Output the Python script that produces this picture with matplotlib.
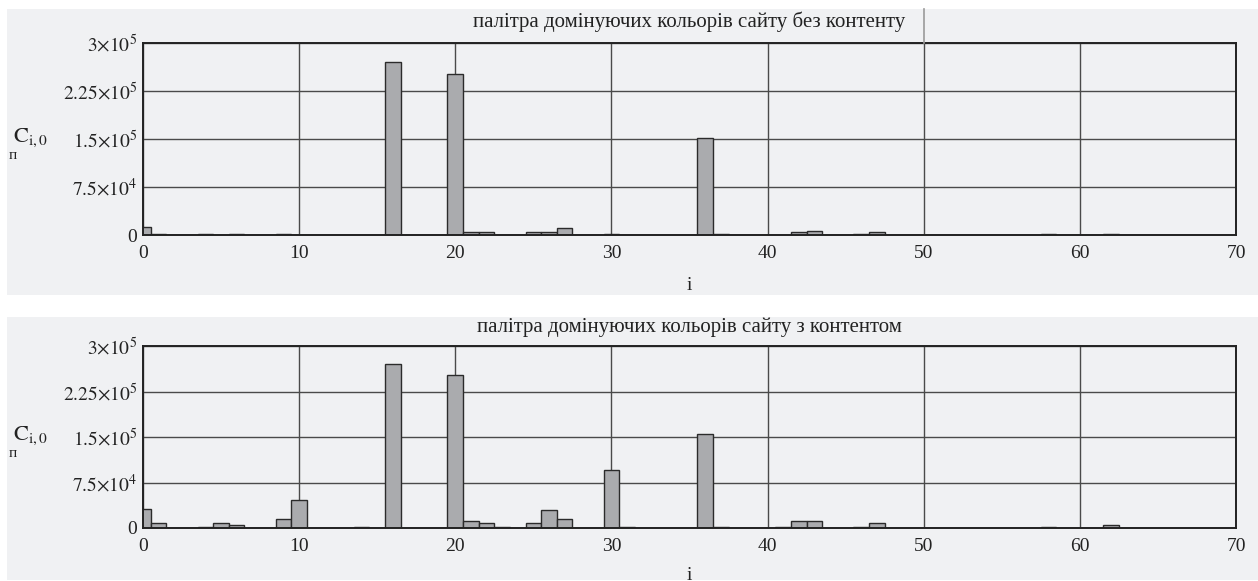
import matplotlib.pyplot as plt
from matplotlib.patches import Rectangle
from matplotlib.lines import Line2D
from matplotlib.ticker import FixedLocator, FixedFormatter

# --- data ---
titulo_sup = "палітра домінуючих кольорів сайту без контенту"
titulo_inf = "палітра домінуючих кольорів сайту з контентом"

i_sup = [0, 1, 4, 6, 9, 16, 20, 21, 22, 25, 26, 27, 30, 36, 37, 42, 43, 46, 47, 58, 62]
c_sup = [12000, 2000, 2000, 2000, 2000, 270000, 252000, 4500, 4500, 4500, 4500, 11000,
         1500, 152000, 1500, 4500, 7000, 1500, 5000, 1500, 1500]

i_inf = [0, 1, 4, 5, 6, 9, 10, 14, 16, 20, 21, 22, 23, 25, 26, 27, 30, 31, 36, 37,
         41, 42, 43, 46, 47, 58, 62]
c_inf = [31000, 8000, 1500, 7500, 5500, 15000, 45500, 1500, 270000, 252000, 11000, 7500,
         2000, 7500, 30000, 15500, 95000, 1500, 155000, 1500, 1500, 11000, 11000, 1500,
         7500, 1500, 5000]

x_ticks = [0, 10, 20, 30, 40, 50, 60, 70]
y_ticks = [0, 75000, 150000, 225000, 300000]
y_labels = ["0", r"$7.5{\times}10^{4}$", r"$1.5{\times}10^{5}$",
            r"$2.25{\times}10^{5}$", r"$3{\times}10^{5}$"]

plt.rcParams['font.family'] = ['Liberation Serif', 'DejaVu Serif']
plt.rcParams['mathtext.fontset'] = 'stix'

W, H = 1258, 581
fondo = '#f0f1f3'
fig = plt.figure(figsize=(W / 100, H / 100), dpi=100)
fig.patch.set_facecolor('white')

# gray panel backgrounds
fig.patches.append(Rectangle((7 / W, 1 - 295 / H), (W - 7) / W, 286 / H,
                             transform=fig.transFigure, facecolor=fondo, edgecolor='none', zorder=-5))
fig.patches.append(Rectangle((7 / W, 1 - 580 / H), (W - 7) / W, 263 / H,
                             transform=fig.transFigure, facecolor=fondo, edgecolor='none', zorder=-5))


def panel(pos, idx, vals, titulo, titulo_y, xlabel_y):
    ax = fig.add_axes(pos, zorder=2)
    ax.set_facecolor(fondo)
    ax.bar(idx, vals, width=1.0, align='center', color='#aaabae',
           edgecolor='#2b2b2b', linewidth=1.0, zorder=3)
    ax.set_xlim(0, 70)
    ax.set_ylim(0, 300000)
    ax.xaxis.set_major_locator(FixedLocator(x_ticks))
    ax.yaxis.set_major_locator(FixedLocator(y_ticks))
    ax.yaxis.set_major_formatter(FixedFormatter(y_labels))
    ax.grid(True, color='#4a4a4a', linewidth=1.0, zorder=1)
    ax.set_axisbelow(True)
    ax.tick_params(length=0, labelsize=14, colors='#222222')
    ax.tick_params(axis='x', pad=7)
    ax.tick_params(axis='y', pad=4)
    for s in ax.spines.values():
        s.set_color('#222222')
        s.set_linewidth(1.4)
        s.set_zorder(4)
    fig.text(0.5 * (pos[0] * 2 + pos[2]), 1 - titulo_y / H, titulo, ha='center', va='center',
             fontsize=15, color='#222222')
    fig.text(0.5 * (pos[0] * 2 + pos[2]), 1 - xlabel_y / H, "i", ha='center', va='center',
             fontsize=14, color='#222222')
    y_mid = pos[1] + pos[3] * 0.5
    fig.text(13 / W, y_mid + 1 / H, r"$\mathrm{C}_{\mathrm{i,0}}$", ha='left', va='center',
             fontsize=16, color='#222222')
    fig.text(9 / W, y_mid - 10 / H, "п", ha='left', va='top', fontsize=11, color='#222222')
    return ax


ax1 = panel([143 / W, 1 - 235 / H, 1093 / W, 192 / H], i_sup, c_sup, titulo_sup, 22, 285)
ax2 = panel([143 / W, 1 - 528 / H, 1093 / W, 182 / H], i_inf, c_inf, titulo_inf, 327, 575)

# gridline at 50 runs up into the title area of the upper panel
fig.lines.append(Line2D([924 / W, 924 / W], [1 - 43 / H, 1 - 9 / H], transform=fig.transFigure,
                        color='#9a9a9a', linewidth=1.2))

fig.savefig("out.png", dpi=100, facecolor=fig.get_facecolor())
